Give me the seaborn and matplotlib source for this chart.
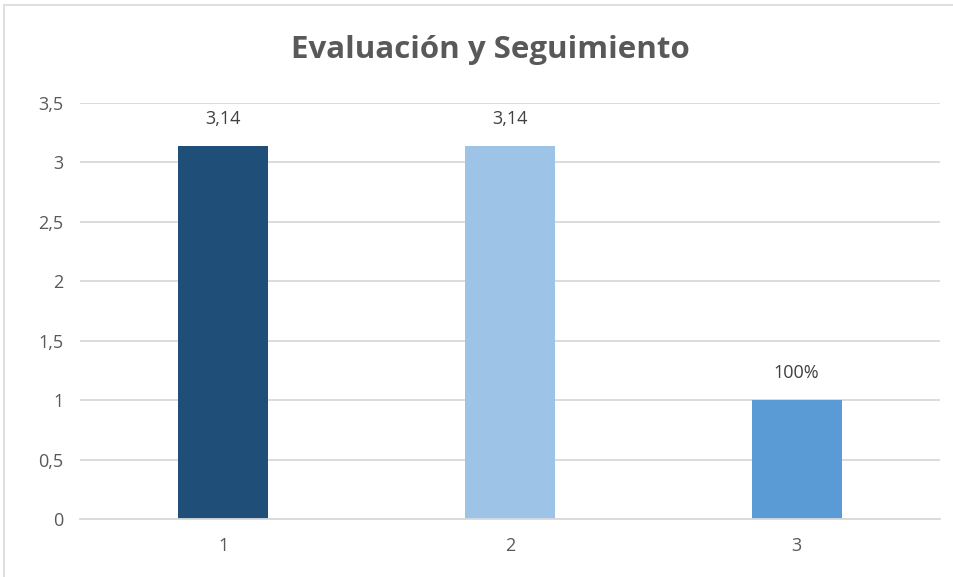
import matplotlib
matplotlib.use("Agg")
import matplotlib.pyplot as plt
import matplotlib.patches as mpatches
import seaborn as sns
import pandas as pd

categories = ["1", "2", "3"]
values = [3.14, 3.14, 1.0]
value_labels = ["3,14", "3,14", "100%"]
colors = ["#1F4E79", "#9DC3E6", "#5B9BD5"]
yticks = [0, 0.5, 1, 1.5, 2, 2.5, 3, 3.5]
ytick_labels = ["0", "0,5", "1", "1,5", "2", "2,5", "3", "3,5"]
title = "Evaluación y Seguimiento"

sns.set_theme(style="white")
plt.rcParams["font.family"] = ["Open Sans", "DejaVu Sans"]

df = pd.DataFrame({"cat": categories, "val": values})

fig = plt.figure(figsize=(9.54, 5.77), dpi=100)
ax = fig.add_axes([80/954, 1-519/577, 860/954, 416/577])
sns.barplot(data=df, x="cat", y="val", hue="cat", palette=colors,
            width=0.314, legend=False, ax=ax, saturation=1, linewidth=0)

ax.set_xlim(-0.5, 2.5)
ax.set_ylim(0, 3.5)
ax.set_yticks(yticks)
ax.set_yticklabels(ytick_labels)
ax.set_xlabel("")
ax.set_ylabel("")
ax.yaxis.grid(True, color="#D9D9D9", linewidth=1.3)
ax.set_axisbelow(True)
for s in ["top", "right", "left"]:
    ax.spines[s].set_visible(False)
ax.spines["bottom"].set_color("#D9D9D9")
ax.spines["bottom"].set_linewidth(1.3)
ax.tick_params(axis="both", length=0, labelsize=13, colors="#595959")
ax.tick_params(axis="x", pad=13)
ax.tick_params(axis="y", pad=12)

for i, (v, lab) in enumerate(zip(values, value_labels)):
    ax.annotate(lab, (i, v), xytext=(0, 13), textcoords="offset points",
                ha="center", va="bottom", fontsize=13, color="#404040")

fig.text(490/954, 1-50/577, title, ha="center", va="center",
         fontsize=22.5, fontweight="bold", color="#595959")

border = mpatches.Rectangle((4/954, -0.1), 1.2, 1-5/577+0.1,
                            transform=fig.transFigure, fill=False,
                            edgecolor="#D9D9D9", linewidth=1.2, clip_on=False)
fig.patches.append(border)

fig.savefig("out.png", dpi=100)
